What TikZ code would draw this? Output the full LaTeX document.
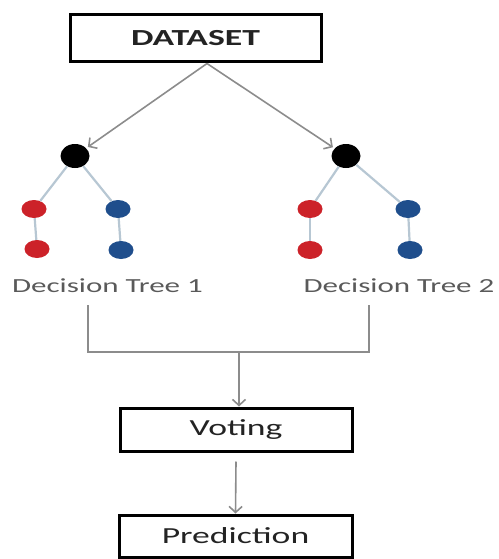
\documentclass[tikz,border=0pt]{standalone}
\usepackage{fontspec}
\setmainfont{Carlito}
\usetikzlibrary{arrows.meta,positioning,shapes.geometric}
\definecolor{leafred}{RGB}{204,34,41}
\definecolor{leafblue}{RGB}{31,78,140}
\definecolor{branch}{RGB}{183,199,211}
\definecolor{wire}{RGB}{140,140,140}
\definecolor{ink}{RGB}{35,35,35}
\newcommand{\wide}[1]{\scalebox{1.55}[1]{#1}}

\begin{document}
\begin{tikzpicture}[x=1pt,y=-1pt,
  box/.style={draw=black,line width=3pt,inner sep=0pt,text=ink,
              font=\fontsize{23}{26}\selectfont},
  root/.style={ellipse,fill=black,minimum width=29pt,minimum height=24pt,inner sep=0pt},
  leaf/.style={ellipse,minimum width=25pt,minimum height=18pt,inner sep=0pt},
  lab/.style={font=\fontsize{20}{24}\selectfont,text=ink!75,anchor=base},
  e/.style={branch,line width=2.2pt},
  w/.style={wire,line width=2pt},
  a/.style={-{Straight Barb[length=6pt,width=13pt]},wire,line width=1.6pt}]
 \useasboundingbox (0,0) rectangle (498,559);
 % boxes
 \node[box,minimum width=251pt,minimum height=47pt,
       font=\bfseries\fontsize{23}{26}\selectfont] (data) at (195.5,38.5) {\wide{DATASET}};
 \node[box,minimum width=232pt,minimum height=43pt] (vote) at (236,429.5) {\wide{Voting}};
 \node[box,minimum width=233pt,minimum height=42pt] (pred) at (235.5,536) {\wide{Prediction}};
 % tree 1
 \node[root] (r1) at (75,156) {};
 \node[leaf,fill=leafred] (a1) at (34,209) {};
 \node[leaf,fill=leafred] (a2) at (37,249) {};
 \node[leaf,fill=leafblue] (b1) at (118,209) {};
 \node[leaf,fill=leafblue] (b2) at (121,250) {};
 % tree 2
 \node[root] (r2) at (346,156) {};
 \node[leaf,fill=leafred] (c1) at (310,209) {};
 \node[leaf,fill=leafred] (c2) at (310,250) {};
 \node[leaf,fill=leafblue] (d1) at (408,209) {};
 \node[leaf,fill=leafblue] (d2) at (410,250) {};
 \draw[e] (r1)--(a1); \draw[e] (r1)--(b1); \draw[e] (a1)--(a2); \draw[e] (b1)--(b2);
 \draw[e] (r2)--(c1); \draw[e] (r2)--(d1); \draw[e] (c1)--(c2); \draw[e] (d1)--(d2);
 \node[lab] (t1) at (107.5,292) {\wide{Decision Tree 1}};
 \node[lab] (t2) at (399,292) {\wide{Decision Tree 2}};
 % arrows
 \draw[a,shorten >=2pt] ([xshift=11.5pt]data.south) -- (r1);
 \draw[a,shorten >=2pt] ([xshift=11.5pt]data.south) -- (r2);
 \coordinate (s1) at (88,305);
 \coordinate (s2) at (369,305);
 \coordinate (join) at (239,352);
 \draw[w] (s1) |- (join) -| (s2);
 \draw[a] (join) -- (join |- vote.north);
 \draw[a] ([yshift=-9pt]vote.south) -- (pred.north);
\end{tikzpicture}
\end{document}
